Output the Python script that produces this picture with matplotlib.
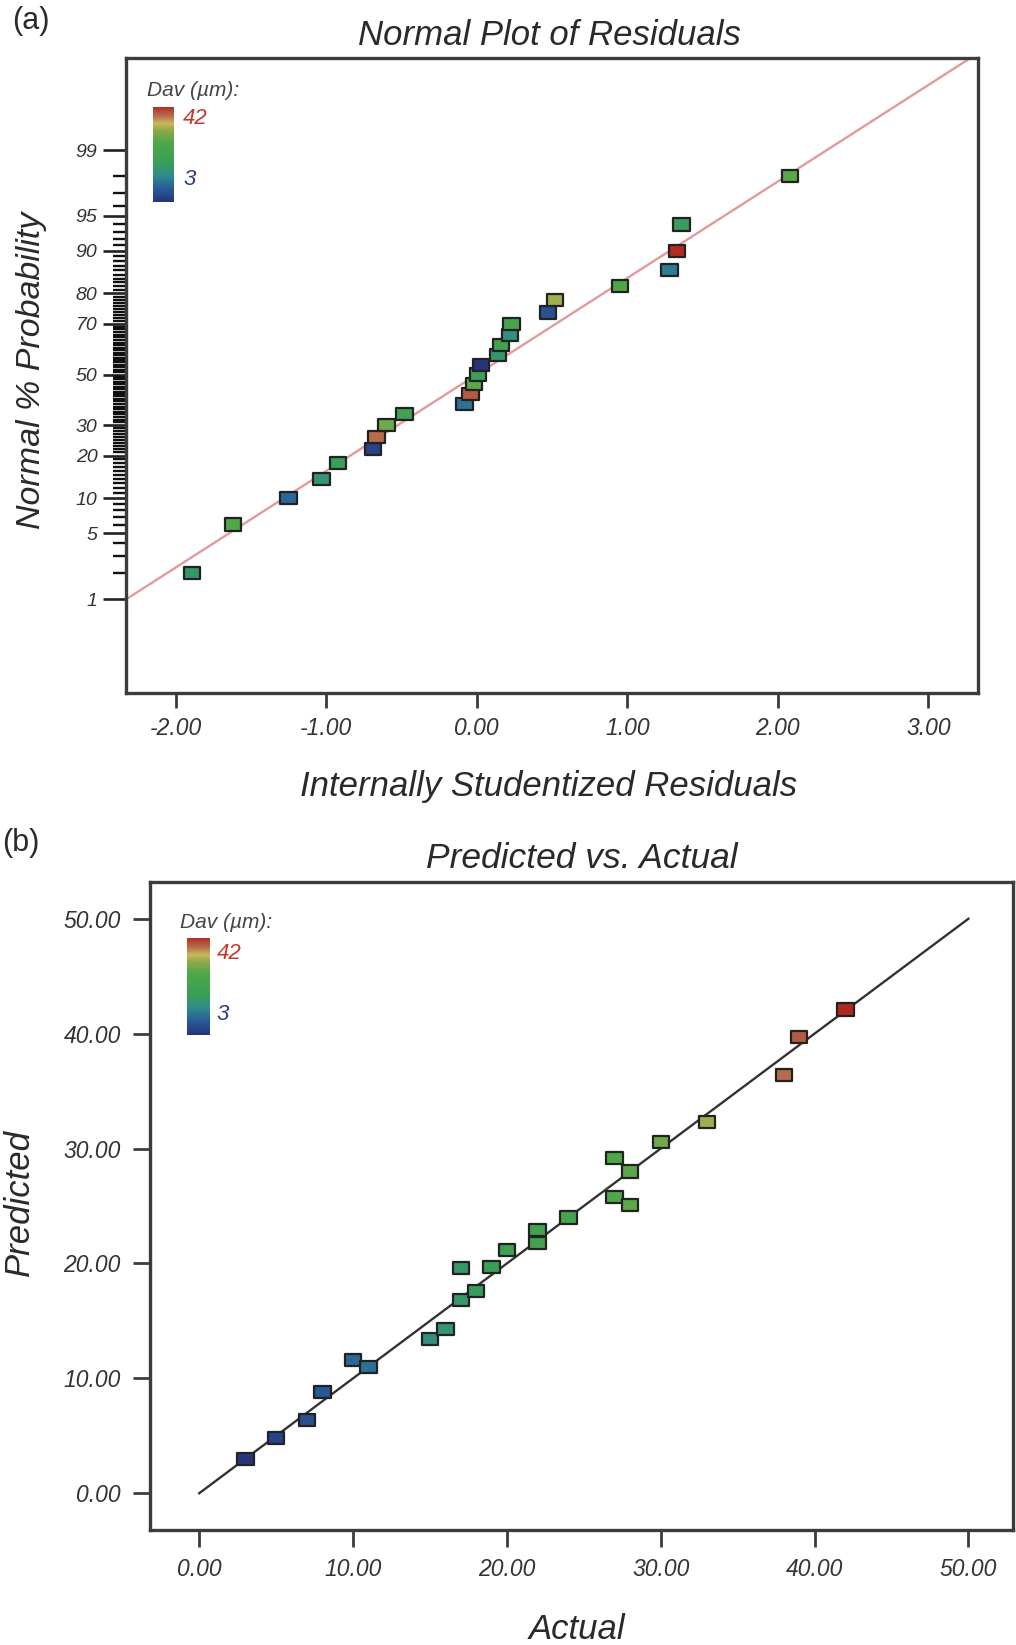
import numpy as np
import matplotlib
matplotlib.use("Agg")
import matplotlib.pyplot as plt
from matplotlib.path import Path
from matplotlib.colors import LinearSegmentedColormap, Normalize
from matplotlib.ticker import NullFormatter
from statistics import NormalDist

# ---------------- data ----------------
# (a) normal probability plot: residuals (sorted) and their normal % probability
RESID = [-1.89, -1.62, -1.25, -1.03, -0.92, -0.69, -0.665, -0.60, -0.48, -0.08,
         -0.04, -0.02, 0.01, 0.03, 0.14, 0.16, 0.22, 0.23, 0.475, 0.52,
         0.95, 1.28, 1.33, 1.36, 2.08]
PROB = [2, 6, 10, 14, 18, 22, 26, 30, 34, 38,
        42, 46, 50, 54, 58, 62, 66, 70, 74, 78,
        82, 86, 90, 94, 98]
DAV_A = [17, 27, 10, 16, 19, 5, 38, 30, 22, 11,
         39, 28, 20, 3, 17, 22, 15, 24, 7, 33,
         27, 12, 42, 18, 28]
PROB_TICKS = [1, 5, 10, 20, 30, 50, 70, 80, 90, 95, 99]
RESID_TICKS = [-2, -1, 0, 1, 2, 3]

# (b) predicted vs actual
ACTUAL = [3, 5, 7, 8, 10, 11, 15, 16, 17, 17, 18, 19, 20, 22, 22, 24,
          27, 27, 28, 28, 30, 33, 38, 39, 42]
PREDICTED = [3.0, 4.8, 6.4, 8.8, 11.6, 11.0, 13.4, 14.3, 16.8, 19.6, 17.6, 19.7,
             21.2, 21.8, 22.9, 24.0, 25.8, 29.2, 28.0, 25.1, 30.6, 32.3, 36.4,
             39.7, 42.1]
AXIS_TICKS_B = [0, 10, 20, 30, 40, 50]

# ---------------- style ----------------
plt.rcParams['font.family'] = ['Liberation Sans', 'DejaVu Sans']
TXT = '#2a2a2a'
SPINE = '#3c3c3c'
cmap = LinearSegmentedColormap.from_list('dav', [
    (0.00, '#26347e'), (0.15, '#2a5e9a'), (0.27, '#2f8a8c'), (0.40, '#3a9e58'),
    (0.62, '#4ea848'), (0.74, '#8aa84c'), (0.82, '#c8b85a'), (0.90, '#b86a4e'),
    (1.00, '#b02a22')])
DAV_MIN = min(ACTUAL)
DAV_MAX = max(ACTUAL)
norm = Normalize(DAV_MIN, DAV_MAX)

rect_marker = Path([(-1, -0.74), (1, -0.74), (1, 0.74), (-1, 0.74), (-1, -0.74)],
                   [Path.MOVETO, Path.LINETO, Path.LINETO, Path.LINETO, Path.CLOSEPOLY])

ND = NormalDist()


def _fwd(p):
    p = np.asarray(p, dtype=float)
    flat = p.ravel()
    res = np.array([ND.inv_cdf(min(max(v / 100.0, 1e-12), 1 - 1e-12)) if np.isfinite(v) else np.nan
                    for v in flat], dtype=float)
    return res.reshape(p.shape)


def _inv(z):
    z = np.asarray(z, dtype=float)
    flat = z.ravel()
    res = np.array([ND.cdf(v) * 100.0 if np.isfinite(v) else np.nan for v in flat], dtype=float)
    return res.reshape(z.shape)


W, H = 1016, 1645
fig = plt.figure(figsize=(W / 100, H / 100), dpi=100)


def axrect(l, t, r, b):
    return [l / W, 1 - b / H, (r - l) / W, (b - t) / H]


def style_spines(ax):
    for s in ax.spines.values():
        s.set_color(SPINE)
        s.set_linewidth(2.4)


def dav_legend(ax, bar_rect, title_xy, hi_xy, lo_xy):
    cax = ax.inset_axes(bar_rect)
    cax.imshow(np.linspace(0, 1, 256)[:, None], aspect='auto', cmap=cmap, origin='lower')
    cax.set_axis_off()
    ax.text(*title_xy, 'Dav (µm):', transform=ax.transAxes, ha='left', va='center',
            fontsize=15, style='italic', color='#444444')
    ax.text(*hi_xy, f'{DAV_MAX}', transform=ax.transAxes, ha='left', va='center',
            fontsize=16, style='italic', color='#c0392b')
    ax.text(*lo_xy, f'{DAV_MIN}', transform=ax.transAxes, ha='left', va='center',
            fontsize=16, style='italic', color='#2c3e80')


# ---------------- (a) ----------------
ax1 = fig.add_axes(axrect(126, 58, 978, 693))
ax1.set_yscale('function', functions=(_fwd, _inv))
xlim_a = np.array([-2.33, 3.33])
ax1.set_xlim(*xlim_a)
ax1.set_ylim(*_inv(np.array([-3.30, 3.28])))
ax1.plot(xlim_a, _inv(xlim_a), color='#e39a9a', lw=1.7, zorder=2)
ax1.scatter(RESID, PROB, c=DAV_A, cmap=cmap, norm=norm, marker=rect_marker, s=140,
            edgecolors='#222222', linewidths=1.6, zorder=3)
ax1.set_xticks(RESID_TICKS, labels=[f'{t:.2f}' for t in RESID_TICKS],
               fontstyle='italic', fontsize=16.5, color='#333333')
ax1.set_yticks(PROB_TICKS, labels=[str(t) for t in PROB_TICKS],
               fontstyle='italic', fontsize=14, color='#333333')
ax1.set_yticks([v for v in range(1, 100) if v not in PROB_TICKS], minor=True)
ax1.yaxis.set_minor_formatter(NullFormatter())
ax1.tick_params(axis='x', direction='out', length=11, width=2, pad=6, color=SPINE)
ax1.tick_params(axis='y', which='major', direction='out', length=16.5, width=1.9, pad=4, color='#222222')
ax1.tick_params(axis='y', which='minor', direction='out', length=9.5, width=1.7, color='#111111')
style_spines(ax1)
ax1.set_title('Normal Plot of Residuals', fontsize=25, style='italic', color=TXT,
              x=0.4965, y=1.036, va='center', pad=0)
ax1.set_xlabel('Internally Studentized Residuals', fontsize=25, style='italic', color=TXT, va='center')
ax1.xaxis.set_label_coords(0.4965, -0.148)
ax1.set_ylabel('Normal % Probability', fontsize=24.5, style='italic', color=TXT, va='center', ha='center')
ax1.yaxis.set_label_coords(-0.1115, 0.508)
dav_legend(ax1, [0.0317, 0.773, 0.0246, 0.150], (0.0246, 0.9496), (0.0669, 0.9055), (0.0669, 0.808))
fig.text(31 / W, 1 - 21 / H, '(a)', ha='center', va='center', fontsize=22, color=TXT)

# ---------------- (b) ----------------
ax2 = fig.add_axes(axrect(150, 882, 1013, 1530))
ax2.set_xlim(-3.2, 52.9)
ax2.set_ylim(-3.2, 53.2)
ref = np.array([AXIS_TICKS_B[0], AXIS_TICKS_B[-1]])
ax2.plot(ref, ref, color='#333333', lw=1.7, zorder=2)
ax2.scatter(ACTUAL, PREDICTED, c=ACTUAL, cmap=cmap, norm=norm, marker=rect_marker, s=140,
            edgecolors='#222222', linewidths=1.6, zorder=3)
ax2.set_xticks(AXIS_TICKS_B, labels=[f'{t:.2f}' for t in AXIS_TICKS_B],
               fontstyle='italic', fontsize=16.5, color='#333333')
ax2.set_yticks(AXIS_TICKS_B, labels=[f'{t:.2f}' for t in AXIS_TICKS_B],
               fontstyle='italic', fontsize=16.5, color='#333333')
ax2.tick_params(axis='x', direction='out', length=12, width=2, pad=8, color=SPINE)
ax2.tick_params(axis='y', direction='out', length=12, width=2, pad=9, color=SPINE)
style_spines(ax2)
ax2.set_title('Predicted vs. Actual', fontsize=25.5, style='italic', color=TXT,
              x=0.5006, y=1.0355, va='center', pad=0)
ax2.set_xlabel('Actual', fontsize=25, style='italic', color=TXT, va='center')
ax2.xaxis.set_label_coords(0.4948, -0.1528)
ax2.set_ylabel('Predicted', fontsize=25, style='italic', color=TXT, va='center', ha='center')
ax2.yaxis.set_label_coords(-0.1518, 0.506)
dav_legend(ax2, [0.0429, 0.764, 0.0266, 0.150], (0.0348, 0.938), (0.0776, 0.8904), (0.0776, 0.7948))
fig.text(21 / W, 1 - 843 / H, '(b)', ha='center', va='center', fontsize=22, color=TXT)

fig.savefig('out.png', dpi=100, facecolor='white')
